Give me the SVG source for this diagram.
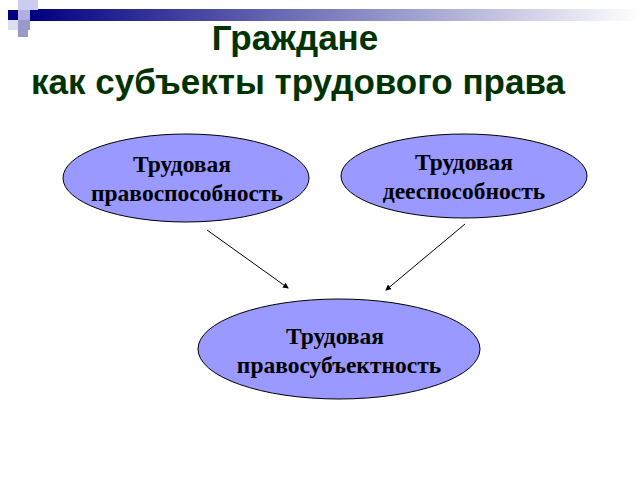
<svg xmlns="http://www.w3.org/2000/svg" width="640" height="480" viewBox="0 0 640 480">
<defs>
<linearGradient id="g" x1="0" x2="1" y1="0" y2="0"><stop offset="0" stop-color="#000080"/><stop offset="1" stop-color="#ffffff"/></linearGradient>
<marker id="a" markerWidth="6" markerHeight="6" refX="5" refY="3" orient="auto" markerUnits="userSpaceOnUse"><path d="M0,0 L6,3 L0,6 z" fill="#000"/></marker>
<style>
.n{fill:#9999ff;stroke:#000;stroke-width:1}
.t{font-family:"Liberation Serif",serif;font-weight:bold;font-size:23.5px;text-anchor:middle;fill:#000}
.h{font-family:"Liberation Sans",sans-serif;font-weight:bold;font-size:35px;fill:#003300;text-anchor:middle}
</style>
</defs>
<rect x="0" y="0" width="640" height="480" fill="#fff"/>
<g id="decor">
<rect x="30" y="9" width="610" height="12" fill="url(#g)"/>
<rect x="8" y="10" width="10" height="10" fill="#000080"/>
<rect x="18" y="0" width="10" height="10" fill="#ccccee"/>
<rect x="28" y="0" width="10" height="10" fill="#ccccee"/>
<rect x="18" y="10" width="12" height="10" fill="#b0b0e0"/>
<rect x="18" y="20" width="12" height="10" fill="#9999cc"/>
<rect x="8" y="20" width="10" height="10" fill="#ddddf0"/>
<rect x="18" y="30" width="10" height="7" fill="#9999cc"/>
</g>
<text class="h" x="295" y="50">Граждане</text>
<text class="h" x="298" y="94">как субъекты трудового права</text>
<g id="connectors" stroke="#000" stroke-width="1">
<line x1="207" y1="230" x2="288" y2="288" marker-end="url(#a)"/>
<line x1="465" y1="224" x2="386" y2="290" marker-end="url(#a)"/>
</g>
<g id="n1"><ellipse class="n" cx="186" cy="178" rx="123" ry="44"/><text class="t" x="182" y="172">Трудовая</text><text class="t" x="187" y="201">правоспособность</text></g>
<g id="n2"><ellipse class="n" cx="464" cy="176" rx="123" ry="42"/><text class="t" x="464" y="170">Трудовая</text><text class="t" x="464" y="199">дееспособность</text></g>
<g id="n3"><ellipse class="n" cx="339" cy="349" rx="141" ry="50"/><text class="t" x="335" y="344">Трудовая</text><text class="t" x="339" y="373">правосубъектность</text></g>
</svg>
